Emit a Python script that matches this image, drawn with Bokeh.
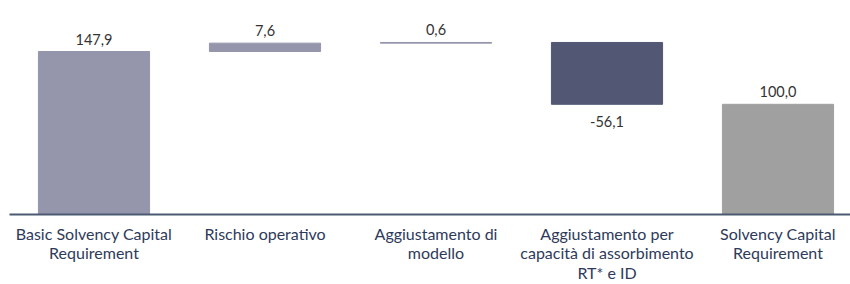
from bokeh.plotting import figure
from bokeh.models import ColumnDataSource, FixedTicker, Range1d
from bokeh.core.properties import value
from bokeh.embed import file_html
from bokeh.resources import INLINE

categories = ["Basic Solvency Capital\nRequirement", "Rischio operativo",
              "Aggiustamento di\nmodello",
              "Aggiustamento per\ncapacità di assorbimento\nRT* e ID",
              "Solvency Capital\nRequirement"]
values = [147.9, 7.6, 0.6, -56.1, 100.0]
is_total = [True, False, False, False, True]
colors = ["#9596AB", "#9596AB", "#9596AB", "#525874", "#A0A0A0"]

xs, bottoms, tops, lab_y, lab_off, lab_base, labels = [], [], [], [], [], [], []
run = 0.0
for i, (v, t) in enumerate(zip(values, is_total)):
    if t:
        b, tp = 0.0, v
        run = v
    else:
        b, tp = min(run, run + v), max(run, run + v)
        run = run + v
    xs.append(i)
    bottoms.append(b)
    tops.append(tp)
    if v < 0:
        lab_y.append(b); lab_off.append(12); lab_base.append("top")
    else:
        lab_y.append(tp); lab_off.append(-7); lab_base.append("bottom")
    labels.append(f"{v:.1f}".replace(".", ","))

src = ColumnDataSource(dict(x=xs, bottom=bottoms, top=tops, color=colors,
                            ly=lab_y, loff=lab_off, lbase=lab_base, label=labels))

FW, FH = 841, 214
SP = 171.0
x0 = -(93.5 - 9) / SP
p = figure(frame_width=FW, frame_height=FH, output_backend="svg", toolbar_location=None,
           x_range=Range1d(x0, x0 + FW / SP), y_range=Range1d(0, FH / 1.102),
           min_border_left=9, min_border_right=0, min_border_top=0, min_border_bottom=0)
p.outline_line_color = None
p.grid.visible = False
p.yaxis.visible = False

p.vbar(x="x", bottom="bottom", top="top", width=0.65, fill_color="color",
       line_color="color", line_width=1, source=src)
p.text(x="x", y="ly", text="label", y_offset="loff", text_baseline="lbase",
       text_align="center", text_font=value("Lato"), text_font_size="14.5px",
       text_color="#333333", source=src)

ax = p.xaxis[0]
ax.ticker = FixedTicker(ticks=list(range(len(categories))))
ax.major_label_overrides = {i: c for i, c in enumerate(categories)}
ax.major_tick_line_color = None
ax.minor_tick_line_color = None
ax.axis_line_color = "#4B5A72"
ax.axis_line_width = 2
ax.major_label_text_font = "Lato"
ax.major_label_text_font_size = "16px"
ax.major_label_text_line_height = 1.05
ax.major_label_text_color = "#2E3A5A"
ax.major_label_standoff = 3

open("out.html", "w").write(file_html(p, INLINE))
